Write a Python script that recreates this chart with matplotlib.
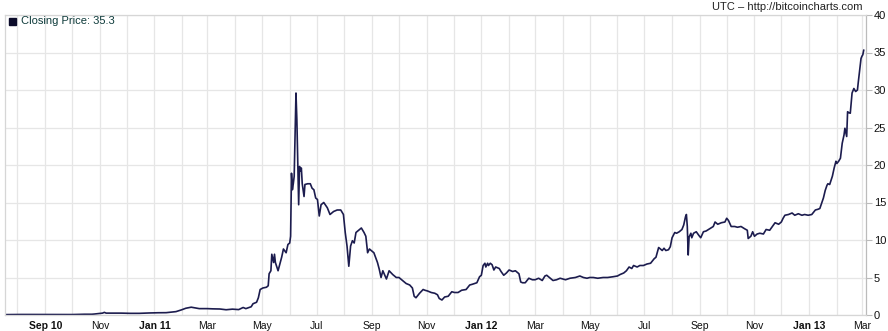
import numpy as np
import pandas as pd
import matplotlib
matplotlib.use("Agg")
import matplotlib.pyplot as plt
import matplotlib.dates as mdates
from matplotlib.patches import Rectangle

# closing price (USD)
dates = [
    "2010-07-17", "2010-07-25", "2010-08-05", "2010-08-20", "2010-09-01", "2010-09-15",
    "2010-10-01", "2010-10-15", "2010-10-23", "2010-10-26", "2010-10-31", "2010-11-04",
    "2010-11-06", "2010-11-08", "2010-11-15", "2010-11-25", "2010-12-05", "2010-12-15",
    "2010-12-26",
    "2011-01-05", "2011-01-14", "2011-01-25", "2011-01-31", "2011-02-05", "2011-02-11",
    "2011-02-15", "2011-02-20", "2011-03-01", "2011-03-07", "2011-03-15", "2011-03-22",
    "2011-03-29", "2011-04-05", "2011-04-10", "2011-04-13", "2011-04-19", "2011-04-21",
    "2011-04-23", "2011-04-25", "2011-04-27", "2011-04-29", "2011-05-02", "2011-05-06",
    "2011-05-08", "2011-05-09", "2011-05-11", "2011-05-12", "2011-05-14", "2011-05-15",
    "2011-05-16", "2011-05-19", "2011-05-21", "2011-05-23", "2011-05-25", "2011-05-28",
    "2011-05-30", "2011-06-01", "2011-06-02", "2011-06-03", "2011-06-04", "2011-06-05",
    "2011-06-06", "2011-06-07", "2011-06-08", "2011-06-09", "2011-06-10", "2011-06-11",
    "2011-06-12", "2011-06-13", "2011-06-14", "2011-06-15", "2011-06-17", "2011-06-18",
    "2011-06-21", "2011-06-24", "2011-06-26", "2011-06-28", "2011-06-30", "2011-07-02",
    "2011-07-04", "2011-07-06", "2011-07-09", "2011-07-13", "2011-07-16", "2011-07-20",
    "2011-07-24", "2011-07-28", "2011-07-31", "2011-08-02", "2011-08-04", "2011-08-06",
    "2011-08-08", "2011-08-10", "2011-08-12", "2011-08-14", "2011-08-16", "2011-08-20",
    "2011-08-23", "2011-08-25", "2011-08-27", "2011-08-29", "2011-09-01", "2011-09-03",
    "2011-09-07", "2011-09-09", "2011-09-11", "2011-09-13", "2011-09-17", "2011-09-20",
    "2011-09-24", "2011-09-28", "2011-10-01", "2011-10-05", "2011-10-09", "2011-10-13",
    "2011-10-16", "2011-10-18", "2011-10-20", "2011-10-24", "2011-10-28", "2011-10-30",
    "2011-11-02", "2011-11-06", "2011-11-10", "2011-11-13", "2011-11-15", "2011-11-18",
    "2011-11-21", "2011-11-25", "2011-11-29", "2011-12-02", "2011-12-06", "2011-12-10",
    "2011-12-15", "2011-12-19", "2011-12-22", "2011-12-27", "2011-12-30",
    "2012-01-01", "2012-01-03", "2012-01-05", "2012-01-06", "2012-01-08", "2012-01-09",
    "2012-01-11", "2012-01-13", "2012-01-15", "2012-01-17", "2012-01-21", "2012-01-23",
    "2012-01-26", "2012-01-29", "2012-02-01", "2012-02-05", "2012-02-08", "2012-02-12",
    "2012-02-14", "2012-02-16", "2012-02-19", "2012-02-23", "2012-02-27", "2012-03-01",
    "2012-03-05", "2012-03-09", "2012-03-12", "2012-03-14", "2012-03-18", "2012-03-21",
    "2012-03-25", "2012-03-29", "2012-04-04", "2012-04-09", "2012-04-15", "2012-04-20",
    "2012-04-24", "2012-04-28", "2012-05-01", "2012-05-05", "2012-05-10", "2012-05-16",
    "2012-05-21", "2012-05-27", "2012-06-01", "2012-06-04", "2012-06-08", "2012-06-11",
    "2012-06-14", "2012-06-17", "2012-06-19", "2012-06-23", "2012-06-26", "2012-06-30",
    "2012-07-04", "2012-07-08", "2012-07-12", "2012-07-14", "2012-07-16", "2012-07-17",
    "2012-07-19", "2012-07-21", "2012-07-23", "2012-07-25", "2012-07-28", "2012-07-30",
    "2012-08-01", "2012-08-04", "2012-08-06", "2012-08-09", "2012-08-12", "2012-08-14",
    "2012-08-16", "2012-08-17", "2012-08-18", "2012-08-19", "2012-08-20", "2012-08-22",
    "2012-08-23", "2012-08-25", "2012-08-28", "2012-08-31", "2012-09-02", "2012-09-05",
    "2012-09-08", "2012-09-12", "2012-09-16", "2012-09-18", "2012-09-21", "2012-09-25",
    "2012-09-29", "2012-10-01", "2012-10-03", "2012-10-06", "2012-10-10", "2012-10-13",
    "2012-10-17", "2012-10-21", "2012-10-24", "2012-10-25", "2012-10-28", "2012-10-30",
    "2012-11-01", "2012-11-04", "2012-11-07", "2012-11-11", "2012-11-14", "2012-11-18",
    "2012-11-21", "2012-11-24", "2012-11-28", "2012-12-01", "2012-12-03", "2012-12-05",
    "2012-12-09", "2012-12-13", "2012-12-16", "2012-12-20", "2012-12-24", "2012-12-27",
    "2012-12-31",
    "2013-01-04", "2013-01-08", "2013-01-11", "2013-01-13", "2013-01-15", "2013-01-17",
    "2013-01-19", "2013-01-21", "2013-01-22", "2013-01-24", "2013-01-27", "2013-01-29",
    "2013-01-31", "2013-02-01", "2013-02-03", "2013-02-05", "2013-02-07", "2013-02-09",
    "2013-02-10", "2013-02-12", "2013-02-13", "2013-02-14", "2013-02-16", "2013-02-18",
    "2013-02-20", "2013-02-22", "2013-02-24", "2013-02-25", "2013-02-27", "2013-02-28",
    "2013-03-01", "2013-03-02", "2013-03-03",
]
prices = [
    0.05, 0.06, 0.07, 0.07, 0.06, 0.06,
    0.06, 0.10, 0.10, 0.13, 0.20, 0.25,
    0.35, 0.25, 0.25, 0.25, 0.22, 0.22,
    0.27,
    0.30, 0.31, 0.45, 0.68, 0.90, 1.04,
    0.95, 0.85, 0.85, 0.82, 0.80, 0.70,
    0.78, 0.72, 1.00, 0.85, 1.10, 1.50,
    1.60, 1.70, 2.30, 3.40, 3.60, 3.70,
    3.90, 5.50, 5.90, 8.10, 7.00, 8.10,
    7.00, 5.90, 6.80, 7.70, 8.80, 8.30,
    9.40, 9.60, 10.5, 18.9, 16.7, 17.5,
    18.5, 24.0, 29.6, 26.0, 20.0, 14.7,
    19.8, 19.2, 19.6, 17.5, 15.8, 17.4,
    17.5, 17.5, 16.9, 16.7, 15.6, 15.4,
    13.2, 14.7, 15.0, 14.3, 13.4, 13.8,
    14.0, 14.0, 13.4, 11.0, 9.20, 6.50,
    9.20, 9.90, 9.60, 11.0, 11.2, 11.6,
    11.0, 10.5, 8.30, 8.80, 8.50, 8.30,
    7.00, 6.10, 5.00, 5.90, 4.80, 5.90,
    5.40, 5.00, 5.00, 4.60, 4.20, 4.00,
    3.60, 2.50, 2.30, 2.90, 3.40, 3.30,
    3.20, 3.00, 2.90, 2.70, 2.20, 2.00,
    2.40, 2.50, 3.10, 3.00, 3.00, 3.30,
    3.40, 4.00, 4.10, 4.30, 5.10,
    5.30, 6.60, 6.90, 6.40, 6.90, 6.60,
    6.90, 6.70, 6.00, 6.40, 6.20, 5.80,
    5.30, 5.60, 6.00, 5.80, 5.90, 5.50,
    4.40, 4.30, 4.30, 4.90, 4.70, 4.70,
    4.90, 4.60, 5.20, 5.30, 4.90, 4.60,
    4.70, 4.90, 4.70, 4.90, 5.00, 5.20,
    5.00, 4.90, 5.00, 5.00, 4.90, 5.00,
    5.00, 5.10, 5.20, 5.40, 5.60, 5.90,
    6.40, 6.20, 6.60, 6.40, 6.60, 6.60,
    6.80, 6.90, 7.50, 7.70, 8.60, 9.00,
    8.80, 8.60, 8.90, 8.60, 8.70, 9.10,
    10.3, 11.0, 10.9, 11.1, 11.4, 12.0,
    13.1, 13.4, 11.8, 8.00, 10.4, 10.9,
    10.3, 10.9, 11.1, 10.6, 10.3, 11.1,
    11.2, 11.5, 11.8, 12.4, 12.1, 12.3,
    12.4, 12.9, 12.6, 11.8, 11.8, 11.7,
    11.8, 11.5, 11.3, 10.2, 10.5, 11.1,
    10.5, 10.8, 10.9, 10.8, 11.4, 11.3,
    11.8, 12.3, 12.1, 12.4, 12.9, 13.3,
    13.4, 13.6, 13.3, 13.5, 13.3, 13.4,
    13.3,
    13.4, 14.0, 14.1, 14.2, 14.9, 15.6,
    16.6, 17.3, 17.5, 17.4, 18.5, 19.6,
    20.5, 20.2, 20.5, 20.9, 22.9, 24.0,
    24.9, 23.8, 27.1, 27.0, 26.9, 29.6,
    30.2, 29.8, 30.0, 31.1, 33.1, 34.2,
    34.5, 34.7, 35.3,
]

month_labels = ["Sep 10", "Nov", "Jan 11", "Mar", "May", "Jul", "Sep", "Nov",
                "Jan 12", "Mar", "May", "Jul", "Sep", "Nov", "Jan 13", "Mar"]
y_ticks = [0, 5, 10, 15, 20, 25, 30, 35, 40]

x = pd.to_datetime(dates)

W, H = 888, 331
fig = plt.figure(figsize=(W / 100, H / 100), dpi=100)
plt.rcParams["font.family"] = ["Liberation Sans", "DejaVu Sans"]
ax = fig.add_axes([4.5 / W, (H - 315) / H, 861 / W, 300 / H])

ax.plot(x, prices, color="#1c1c4e", lw=1.2, solid_joinstyle="round")

ax.set_xlim(pd.Timestamp("2010-07-17 12:00"), pd.Timestamp("2013-03-05"))
ax.set_ylim(0, 40)

grid_c = "#e6e6e6"
ax.xaxis.set_minor_locator(mdates.MonthLocator())
tick_pos = pd.date_range("2010-09-01", "2013-03-01", freq="2MS")
ax.set_xticks(tick_pos)
ax.set_xticklabels(month_labels)
for lab in ax.get_xticklabels():
    if any(ch.isdigit() for ch in lab.get_text()):
        lab.set_fontweight("bold")
ax.grid(True, which="both", axis="x", color=grid_c, lw=0.9)
ax.grid(True, which="major", axis="y", color=grid_c, lw=0.9)
ax.set_axisbelow(True)
ax.tick_params(axis="x", which="both", length=0, pad=4, labelsize=7.5, colors="#111111")

ax.set_yticks(y_ticks)
ax.yaxis.tick_right()
ax.tick_params(axis="y", length=4, width=0.8, color="#bbbbbb", pad=2,
               labelsize=8, labelcolor="#111111")

for side in ["left", "top", "bottom"]:
    ax.spines[side].set_color("#d6d6d6")
    ax.spines[side].set_linewidth(0.9)
ax.spines["right"].set_color("#bbbbbb")
ax.spines["right"].set_linewidth(0.9)

# legend
fig.patches.append(Rectangle((9 / W, 1 - 25 / H), 7 / W, 7 / H,
                             transform=fig.transFigure, color="#0b0b2a"))
fig.text(21 / W, 1 - 21.5 / H, f"Closing Price: {prices[-1]}", fontsize=8,
         color="#0d3a3a", va="center", ha="left")
fig.text(862 / W, 1 - 7 / H, "UTC \u2013 http://bitcoincharts.com", fontsize=8,
         color="#222222", va="center", ha="right")

fig.savefig("out.png", dpi=100, facecolor="white")
